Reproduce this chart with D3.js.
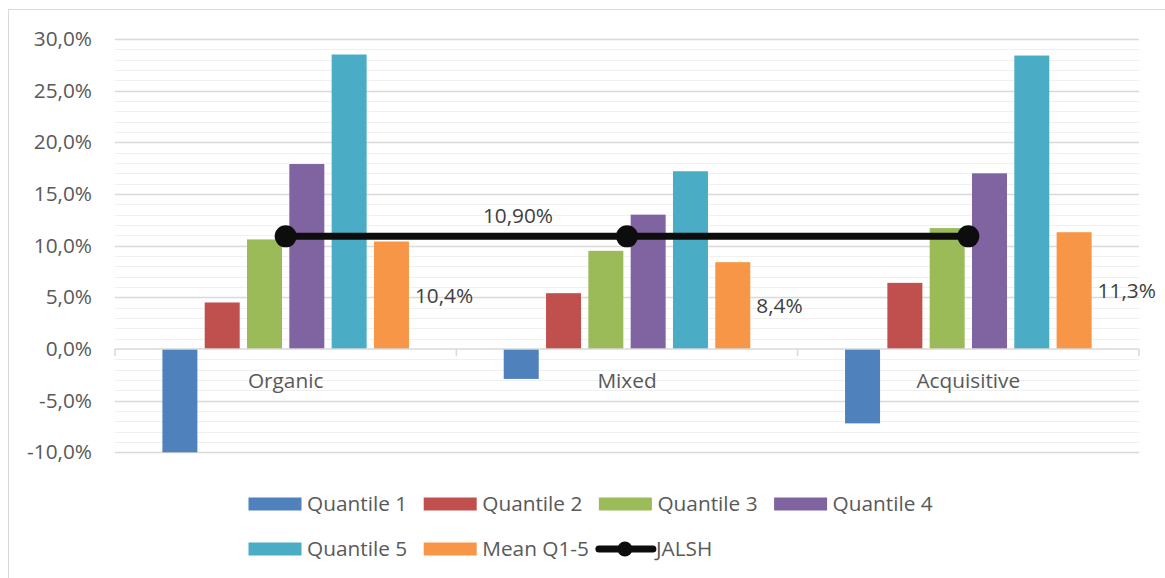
<!DOCTYPE html>
<html>
<head>
<meta charset="utf-8">
<script src="https://cdn.jsdelivr.net/npm/d3@7"></script>
<style>
  html, body { margin: 0; padding: 0; background: #fff; }
  svg { display: block; font-family: "Open Sans", "Liberation Sans", sans-serif; }
</style>
</head>
<body>
<svg id="chart" width="1165" height="578"></svg>
<script>
// Portfolio returns by growth strategy, per quantile
const categories = ["Organic", "Mixed", "Acquisitive"];
const seriesNames = ["Quantile 1", "Quantile 2", "Quantile 3", "Quantile 4", "Quantile 5", "Mean Q1-5"];
const quantile1 = [-10.0, -2.9, -7.2];
const quantile2 = [4.5, 5.4, 6.4];
const quantile3 = [10.6, 9.5, 11.7];
const quantile4 = [17.9, 13.0, 17.0];
const quantile5 = [28.5, 17.2, 28.4];
const meanQ15 = [10.4, 8.4, 11.3];
const jalsh = [10.9, 10.9, 10.9];
const lineName = "JALSH";
const majorTicks = [-10, -5, 0, 5, 10, 15, 20, 25, 30];

const seriesValues = [quantile1, quantile2, quantile3, quantile4, quantile5, meanQ15];
const colors = ["#4f81bd", "#c0504d", "#9bbb59", "#8064a2", "#4bacc6", "#f79646"];

const svg = d3.select("#chart");
const textColor = "#595959";
const fontSize = 20.8;

// comma decimal formatting
const fmt = (v, digits) => v.toFixed(digits).replace(".", ",") + "%";

// outer chart frame
svg.append("rect")
  .attr("x", 8.5).attr("y", 9.5)
  .attr("width", 1165).attr("height", 578)
  .attr("fill", "none").attr("stroke", "#d9d9d9").attr("stroke-width", 1);

const x = d3.scaleBand().domain(categories).range([115, 1139]).padding(0);
const y = d3.scaleLinear().domain([-10, 30]).range([452.3, 39]);
const xs = d3.scaleBand().domain(d3.range(seriesNames.length))
  .range([0, x.bandwidth()]).paddingInner(0.173).paddingOuter(1.12);

// minor gridlines every 1%
const minorTicks = d3.range(-10, 31, 1).filter(v => v % 5 !== 0);
svg.append("g").selectAll("line").data(minorTicks).join("line")
  .attr("x1", 115).attr("x2", 1139)
  .attr("y1", d => Math.round(y(d)) + 0.5).attr("y2", d => Math.round(y(d)) + 0.5)
  .attr("stroke", "#f0f0f0").attr("stroke-width", 1.2);

// major gridlines + y axis labels
const yAxis = d3.axisLeft(y).tickValues(majorTicks).tickSize(0).tickPadding(0)
  .tickFormat(d => fmt(d, 1));
const yAxisG = svg.append("g").attr("transform", "translate(92,0)").call(yAxis);
yAxisG.select(".domain").remove();
yAxisG.selectAll("text")
  .attr("fill", textColor).attr("font-size", fontSize)
  .attr("font-family", "'Open Sans', 'Liberation Sans', sans-serif");

svg.append("g").selectAll("line").data(majorTicks.filter(d => d !== 0)).join("line")
  .attr("x1", 115).attr("x2", 1139)
  .attr("y1", d => Math.round(y(d)) + 0.5).attr("y2", d => Math.round(y(d)) + 0.5)
  .attr("stroke", "#d9d9d9").attr("stroke-width", 1.3);

// bars
const barG = svg.append("g");
seriesValues.forEach((vals, si) => {
  barG.append("g").selectAll("rect").data(vals).join("rect")
    .attr("x", (d, i) => x(categories[i]) + xs(si))
    .attr("width", xs.bandwidth())
    .attr("y", d => y(Math.max(0, d)))
    .attr("height", d => Math.abs(y(d) - y(0)))
    .attr("fill", colors[si]);
});

// category axis at zero
const xAxis = d3.axisBottom(x).tickSize(0).tickFormat("");
const xAxisG = svg.append("g").attr("transform", `translate(0,${y(0)})`).call(xAxis);
xAxisG.select(".domain").attr("stroke", "#d9d9d9").attr("stroke-width", 1.5)
  .attr("d", `M115,0H1139`);
// tick marks between categories
const boundaries = categories.map(c => x(c)).concat([x(categories[categories.length - 1]) + x.bandwidth()]);
xAxisG.selectAll(".bnd").data(boundaries).join("line").attr("class", "bnd")
  .attr("x1", d => d).attr("x2", d => d).attr("y1", 0).attr("y2", 7)
  .attr("stroke", "#d9d9d9").attr("stroke-width", 1.5);
svg.append("g").selectAll("text").data(categories).join("text")
  .attr("x", d => x(d) + x.bandwidth() / 2).attr("y", 388)
  .attr("text-anchor", "middle").attr("fill", textColor).attr("font-size", fontSize)
  .text(d => d);

// mean value labels beside the mean bars
svg.append("g").selectAll("text").data(meanQ15).join("text")
  .attr("x", (d, i) => x(categories[i]) + xs(5) + xs.bandwidth() + 6)
  .attr("y", d => y(d / 2))
  .attr("dy", "0.35em")
  .attr("fill", "#404040").attr("font-size", fontSize)
  .text(d => fmt(d, 1));

// JALSH benchmark line
const cx = c => x(c) + x.bandwidth() / 2;
const line = d3.line().x((d, i) => cx(categories[i])).y(d => y(d));
svg.append("path").datum(jalsh)
  .attr("d", line).attr("fill", "none")
  .attr("stroke", "#0d0d0d").attr("stroke-width", 7);
svg.append("g").selectAll("circle").data(jalsh).join("circle")
  .attr("cx", (d, i) => cx(categories[i])).attr("cy", d => y(d))
  .attr("r", 11).attr("fill", "#0d0d0d");
// benchmark value label, placed up and to the left of the middle point
svg.append("text")
  .attr("x", cx(categories[1]) - 109).attr("y", y(jalsh[1]) - 21)
  .attr("dy", "0.35em").attr("text-anchor", "middle")
  .attr("fill", "#404040").attr("font-size", fontSize)
  .text(fmt(jalsh[1], 2));

// legend
const legendItems = seriesNames.map((n, i) => ({ name: n, color: colors[i], type: "bar" }))
  .concat([{ name: lineName, color: "#0d0d0d", type: "line" }]);
const legendX0 = 248.5, legendPitch = 175.2, rowY = [504, 549];
const lg = svg.append("g").selectAll("g").data(legendItems).join("g")
  .attr("transform", (d, i) => `translate(${legendX0 + (i % 4) * legendPitch},${rowY[Math.floor(i / 4)]})`);
lg.filter(d => d.type === "bar").append("rect")
  .attr("x", 0).attr("y", -6.5).attr("width", 53).attr("height", 13)
  .attr("fill", d => d.color);
const lineItem = lg.filter(d => d.type === "line");
lineItem.append("line").attr("x1", 0).attr("x2", 54).attr("y1", 0).attr("y2", 0)
  .attr("stroke", d => d.color).attr("stroke-width", 7).attr("stroke-linecap", "round");
lineItem.append("circle").attr("cx", 26).attr("cy", 0).attr("r", 7.5).attr("fill", d => d.color);
lg.append("text")
  .attr("x", d => d.type === "line" ? 57 : 58.5).attr("y", 0).attr("dy", "0.35em")
  .attr("fill", textColor).attr("font-size", fontSize)
  .text(d => d.name);
</script>
</body>
</html>
